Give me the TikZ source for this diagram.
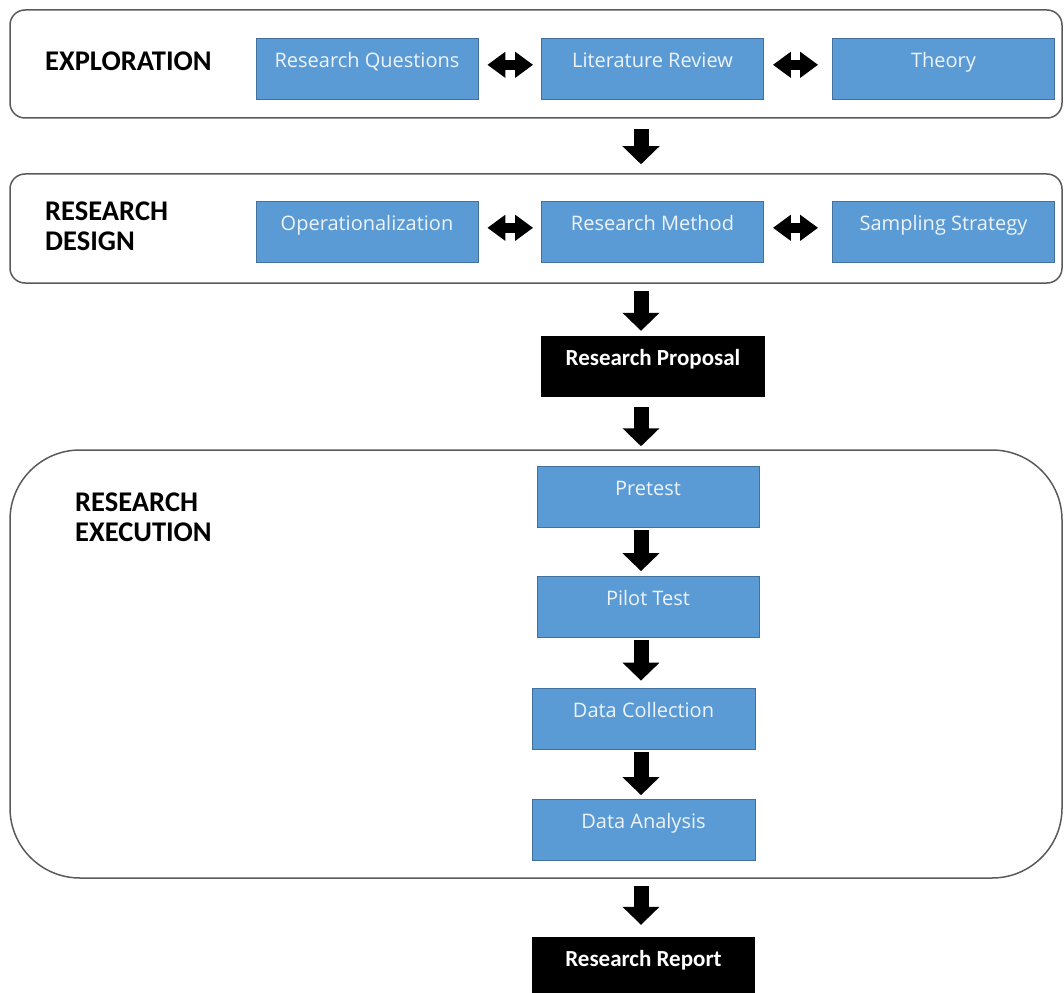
\documentclass[tikz,border=0pt]{standalone}
\usepackage{fontspec}
\setmainfont{Open Sans}
\newfontfamily\calfont{Carlito}
\usetikzlibrary{arrows.meta}

\definecolor{boxblue}{HTML}{5B9BD5}
\definecolor{boxedge}{HTML}{41719C}
\definecolor{boxtext}{HTML}{EEF3FA}
\definecolor{panelline}{HTML}{5A5A5A}

\tikzset{
  panel/.style={draw=panelline, line width=1.5pt, rounded corners=15pt, inner sep=0pt},
  stepbox/.style={rectangle, draw=boxedge, line width=0.8pt, fill=boxblue, text=boxtext,
    font=\fontsize{20}{24}\selectfont, minimum width=222pt, inner sep=0pt,
    text height=29pt, text depth=32pt},
  darkbox/.style={rectangle, fill=black, text=white,
    font=\calfont\bfseries\fontsize{23}{27}\selectfont, minimum width=224pt, inner sep=0pt,
    text height=29pt, text depth=32pt},
  phase/.style={anchor=west, align=left, inner sep=0pt,
    font=\calfont\bfseries\fontsize{28.5}{30}\selectfont},
  down/.style={line width=15pt, -{Triangle[width=36pt,length=18pt]}},
  both/.style={line width=10pt, {Triangle[width=25pt,length=18pt]}-{Triangle[width=25pt,length=18pt]}},
}

\begin{document}
\begin{tikzpicture}[x=1pt, y=-1pt]
\useasboundingbox (0,0) rectangle (1064,992);

% Panels
\node[panel, minimum width=1052pt, minimum height=108pt] (explore) at (536, 64) {};
\node[panel, minimum width=1052pt, minimum height=109pt] (design) at (536, 228.5) {};
\node[panel, rounded corners=70pt, minimum width=1052pt, minimum height=428pt] (execute) at (536, 664) {};

\node[phase] (lexp) at (45, 61.5) {EXPLORATION};
\node[phase] (ldes) at (45, 226) {RESEARCH\\DESIGN};
\node[phase] (lexe) at (75, 517) {RESEARCH\\EXECUTION};

% Exploration row
\node[stepbox] (rq) at (367, 69) {Research Questions};
\node[stepbox] (lr) at (652.5, 69) {Literature Review};
\node[stepbox] (th) at (943.5, 69) {Theory};

\draw[both, shorten <=9pt, shorten >=8pt] (rq.mid east) -- (lr.mid west);
\draw[both, shorten <=9pt, shorten >=14pt] (lr.mid east) -- (th.mid west);

% Research design row
\node[stepbox] (op) at (367, 232) {Operationalization};
\node[stepbox] (rm) at (652.5, 232) {Research Method};
\node[stepbox] (ss) at (943.5, 232) {Sampling Strategy};

\draw[both, shorten <=9pt, shorten >=8pt] (op.mid east) -- (rm.mid west);
\draw[both, shorten <=9pt, shorten >=14pt] (rm.mid east) -- (ss.mid west);

% Proposal
\node[darkbox] (rp) at (653, 366.5) {Research Proposal};

% Execution steps
\node[stepbox] (pre) at (648, 497) {Pretest};
\node[stepbox] (pil) at (648, 607) {Pilot Test};
\node[stepbox, minimum width=223pt] (dc) at (643.5, 718.5) {Data Collection};
\node[stepbox, minimum width=223pt] (da) at (643.5, 830) {Data Analysis};

% Report
\node[darkbox, minimum width=223pt] (rr) at (643.5, 967.5) {Research Report};

% Flow arrows
\coordinate (spine) at (641, 0);
\draw[down, shorten <=10pt, shorten >=9pt] (explore.south -| spine) -- (design.north -| spine);
\draw[down, shorten <=7pt, shorten >=5pt] (design.south -| spine) -- (rp.north -| spine);
\draw[down, shorten <=10pt, shorten >=3pt] (rp.south -| spine) -- (execute.north -| spine);
\draw[down, shorten <=2.5pt, shorten >=5pt] (pre.south -| spine) -- (pil.north -| spine);
\draw[down, shorten <=2.5pt, shorten >=7pt] (pil.south -| spine) -- (dc.north -| spine);
\draw[down, shorten <=3pt, shorten >=4pt] (dc.south -| spine) -- (da.north -| spine);
\draw[down, shorten <=7pt, shorten >=12pt] (execute.south -| spine) -- (rr.north -| spine);

\end{tikzpicture}
\end{document}
